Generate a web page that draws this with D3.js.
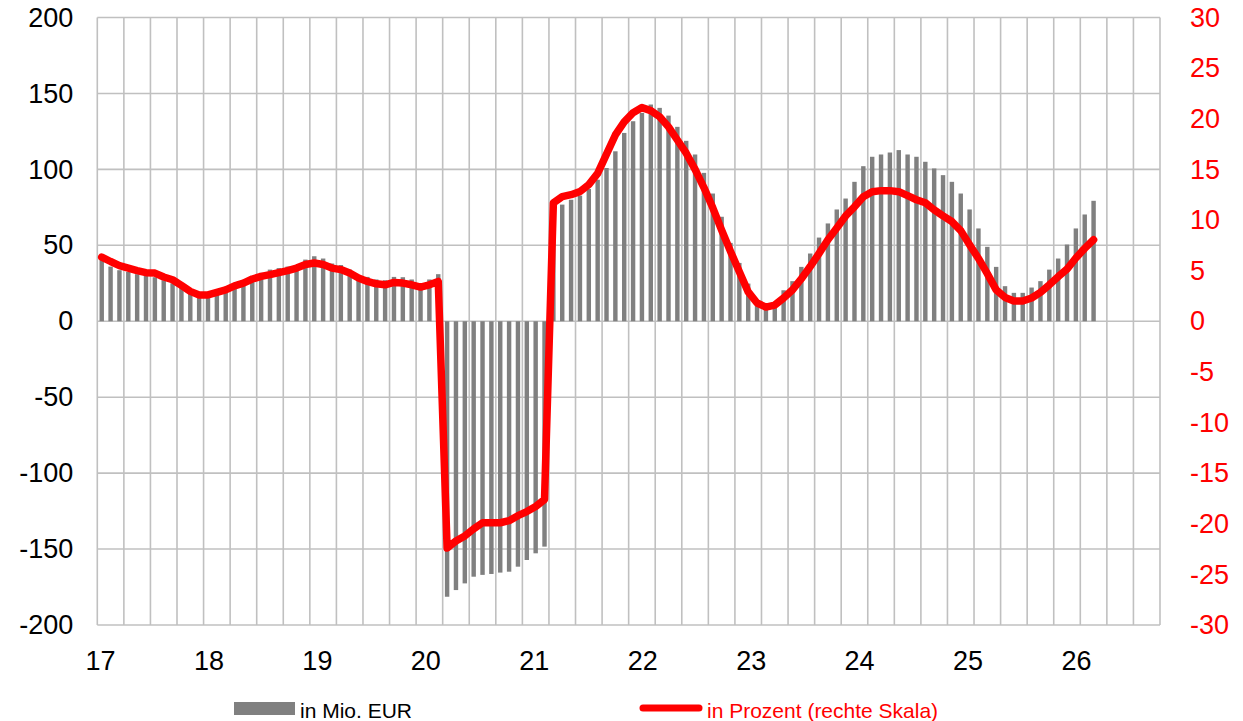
<!DOCTYPE html>
<html>
<head>
<meta charset="utf-8">
<script src="https://cdnjs.cloudflare.com/ajax/libs/d3/7.8.5/d3.min.js"></script>
<style>
  body { margin: 0; background: #fff; }
  svg { display: block; font-family: "Liberation Sans", Arial, sans-serif; }
</style>
</head>
<body>
<div id="chart"></div>
<script>
// monthly values, Jan 2017 .. May 2026
var eurValues = [
  41, 36, 33.6, 32.5, 31, 30.3, 29, 27, 25, 22, 19.3, 17,
  17, 18.7, 21, 23.7, 26, 28.8, 31.9, 34, 35, 36, 37, 40.6,
  42.8, 41.3, 38, 37, 34, 30.3, 29.2, 27.5, 27, 29.2, 29, 27.5,
  25, 27.5, 31, -181.4, -177, -172.6, -168.2, -167, -166.4, -165.5, -164.9, -161.6,
  -157.2, -152.8, -148.4, 75, 76.8, 80, 82.7, 87.1, 93.2, 100.9, 111.9, 124,
  131.7, 137.2, 142.7, 140.5, 135.4, 128, 118.8, 109.8, 97.7, 84.1, 68.8, 51.6,
  38.4, 24.8, 13.8, 10.5, 9.4, 20.4, 26.4, 35.8, 44.6, 55.1, 64.4, 73.6,
  80.8, 91.8, 102.1, 108.3, 109.8, 111.1, 112.7, 109.8, 108.3, 105, 100.6, 96.2,
  91.8, 84.1, 73.6, 61.1, 49, 35.8, 23.1, 18.7, 18.7, 22.2, 26.4, 34,
  41.3, 50.5, 61.1, 70.3, 79.3
];

var pctValues = [
  6.34, 5.9, 5.5, 5.25, 5.0, 4.8, 4.76, 4.37, 4.1, 3.54, 2.95, 2.6,
  2.6, 2.85, 3.1, 3.5, 3.77, 4.17, 4.43, 4.6, 4.8, 5.0, 5.25, 5.6,
  5.75, 5.6, 5.25, 5.1, 4.76, 4.27, 3.93, 3.7, 3.6, 3.83, 3.77, 3.6,
  3.38, 3.6, 3.93, -22.4, -21.7, -21.2, -20.5, -19.9, -19.9, -19.9, -19.7, -19.2,
  -18.8, -18.3, -17.6, 11.7, 12.3, 12.5, 12.8, 13.5, 14.6, 16.5, 18.4, 19.7,
  20.6, 21.1, 20.8, 20.2, 19.2, 17.9, 16.6, 15.0, 13.2, 11.2, 9.0, 6.9,
  4.9, 2.9, 1.8, 1.4, 1.6, 2.3, 3.1, 4.2, 5.4, 6.7, 8.05, 9.2,
  10.4, 11.3, 12.3, 12.8, 12.9, 12.9, 12.8, 12.4, 12.0, 11.7, 11.0, 10.4,
  9.85, 8.95, 7.55, 6.2, 4.7, 3.1, 2.35, 2.0, 2.0, 2.3, 2.85, 3.6,
  4.4, 5.15, 6.25, 7.2, 8.05
];

var yearLabels = ["17", "18", "19", "20", "21", "22", "23", "24", "25", "26"];
var leftTicks = [-200, -150, -100, -50, 0, 50, 100, 150, 200];
var rightTicks = [-30, -25, -20, -15, -10, -5, 0, 5, 10, 15, 20, 25, 30];
var legendLabels = ["in Mio. EUR", "in Prozent (rechte Skala)"];

var nMonths = 120; // axis runs Jan 2017 .. Dec 2026

var width = 1243, height = 721;
var margin = {top: 17.5, right: 83, bottom: 96, left: 97.3};
var x0 = margin.left, x1 = width - margin.right;
var yTop = margin.top, yBot = height - margin.bottom;

var svg = d3.select("#chart").append("svg")
    .attr("width", width)
    .attr("height", height);

var x = d3.scaleBand()
    .domain(d3.range(nMonths))
    .range([x0, x1])
    .paddingInner(0.5)
    .paddingOuter(0.25);

var xEdge = d3.scaleLinear().domain([0, nMonths]).range([x0, x1]);

// year labels sit a little wider apart than the 12-month spacing
var xYear = d3.scalePoint().domain(yearLabels).range([100, 1076]);

var yL = d3.scaleLinear().domain([-200, 200]).range([yBot, yTop]);
var yR = d3.scaleLinear().domain([-30, 30]).range([yBot, yTop]);

var plain = function(d){ return String(d); };

// grid
var grid = svg.append("g").attr("stroke", "#c0c0c0").attr("stroke-width", 1.6);
grid.selectAll("line.v")
    .data(d3.range(0, nMonths + 1, 3))
    .enter().append("line")
    .attr("class", "v")
    .attr("x1", function(d){ return xEdge(d); })
    .attr("x2", function(d){ return xEdge(d); })
    .attr("y1", yTop)
    .attr("y2", yBot);
grid.selectAll("line.h")
    .data(leftTicks)
    .enter().append("line")
    .attr("class", "h")
    .attr("x1", x0)
    .attr("x2", x1)
    .attr("y1", function(d){ return yL(d); })
    .attr("y2", function(d){ return yL(d); });

// bars
svg.append("g").selectAll("rect")
    .data(eurValues)
    .enter().append("rect")
    .attr("fill", "#808080")
    .attr("x", function(d, i){ return x(i); })
    .attr("width", x.bandwidth())
    .attr("y", function(d){ return Math.min(yL(d), yL(0)); })
    .attr("height", function(d){ return Math.abs(yL(d) - yL(0)); });

// line
var line = d3.line()
    .x(function(d, i){ return x(i) + x.bandwidth() / 2; })
    .y(function(d){ return yR(d); });

svg.append("path")
    .datum(pctValues)
    .attr("fill", "none")
    .attr("stroke", "#ff0000")
    .attr("stroke-width", 7.5)
    .attr("stroke-linejoin", "round")
    .attr("stroke-linecap", "round")
    .attr("d", line);

// axes
var axL = svg.append("g")
    .attr("transform", "translate(" + x0 + ",0)")
    .call(d3.axisLeft(yL).tickValues(leftTicks).tickFormat(plain).tickSize(0).tickPadding(24));
axL.select(".domain").remove();
axL.selectAll("text").attr("fill", "#000").style("font-size", "27px")
    .attr("font-family", null);

var axR = svg.append("g")
    .attr("transform", "translate(" + x1 + ",0)")
    .call(d3.axisRight(yR).tickValues(rightTicks).tickFormat(plain).tickSize(0).tickPadding(30));
axR.select(".domain").remove();
axR.selectAll("text").attr("fill", "#ff0000").style("font-size", "27px")
    .attr("font-family", null);

var axX = svg.append("g")
    .attr("transform", "translate(0," + yBot + ")")
    .call(d3.axisBottom(xYear).tickSize(0).tickPadding(26));
axX.select(".domain").remove();
axX.selectAll("text").attr("fill", "#000").style("font-size", "27px")
    .attr("font-family", null);

// legend
var leg = svg.append("g").style("font-size", "21px");
leg.append("rect")
    .attr("x", 234).attr("y", 702)
    .attr("width", 61).attr("height", 13)
    .attr("fill", "#808080");
leg.append("text")
    .attr("x", 300).attr("y", 718)
    .attr("fill", "#000")
    .text(legendLabels[0]);
leg.append("line")
    .attr("x1", 643).attr("x2", 699)
    .attr("y1", 708).attr("y2", 708)
    .attr("stroke", "#ff0000")
    .attr("stroke-width", 7)
    .attr("stroke-linecap", "round");
leg.append("text")
    .attr("x", 707).attr("y", 718)
    .attr("fill", "#ff0000")
    .text(legendLabels[1]);
</script>
</body>
</html>
